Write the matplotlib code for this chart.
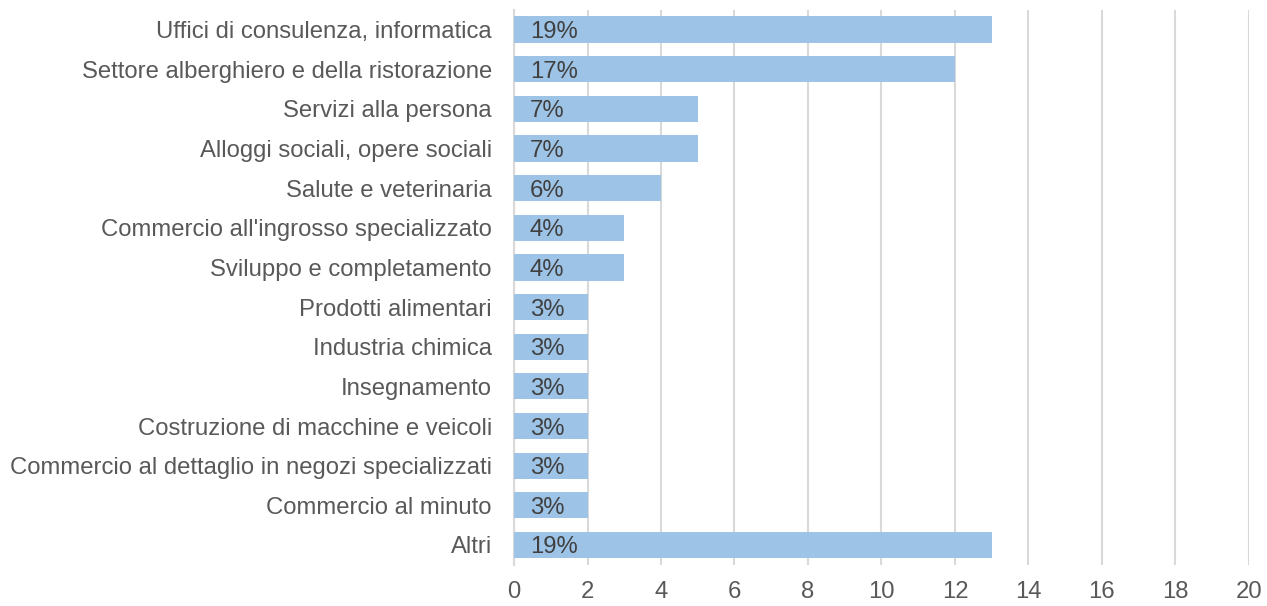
import matplotlib.pyplot as plt
import numpy as np

plt.rcParams['font.family'] = ['Liberation Sans', 'DejaVu Sans']

categories = [
    'Uffici di consulenza, informatica',
    'Settore alberghiero e della ristorazione',
    'Servizi alla persona',
    'Alloggi sociali, opere sociali',
    'Salute e veterinaria',
    "Commercio all'ingrosso specializzato",
    'Sviluppo e completamento',
    'Prodotti alimentari',
    'Industria chimica',
    'Insegnamento',
    'Costruzione di macchine e veicoli',
    'Commercio al dettaglio in negozi specializzati',
    'Commercio al minuto',
    'Altri',
]
values = [13, 12, 5, 5, 4, 3, 3, 2, 2, 2, 2, 2, 2, 13]
percent_labels = ['19%', '17%', '7%', '7%', '6%', '4%', '4%',
                  '3%', '3%', '3%', '3%', '3%', '3%', '19%']

text_color = '#595959'
grid_color = '#D9D9D9'

fig = plt.figure(figsize=(12.67, 6.06), dpi=100)
ax = fig.add_axes([0.4057, 0.068, 0.58, 0.916])

y_pos = np.arange(len(categories))
ax.barh(y_pos, values, height=0.66, color='#9DC3E6', zorder=3)

for y, lab in zip(y_pos, percent_labels):
    ax.annotate(lab, xy=(0, y), xytext=(11.5, 0), textcoords='offset points',
                ha='left', va='center_baseline', fontsize=17.2, color='#404040', zorder=4)

ax.set_xlim(0, 20)
ax.set_ylim(len(categories) - 0.5, -0.5)
ax.set_xticks(np.arange(0, 21, 2))
ax.set_yticks(y_pos)
ax.set_yticklabels(categories)
ax.tick_params(axis='both', length=0, labelsize=17.2, labelcolor=text_color)
ax.tick_params(axis='y', pad=16)
ax.tick_params(axis='x', pad=12)
ax.xaxis.grid(True, color=grid_color, linewidth=1.5, zorder=0)

for side in ['top', 'right', 'bottom']:
    ax.spines[side].set_visible(False)
ax.spines['left'].set_color(grid_color)
ax.spines['left'].set_linewidth(1.5)

fig.savefig('out.png', dpi=100)
